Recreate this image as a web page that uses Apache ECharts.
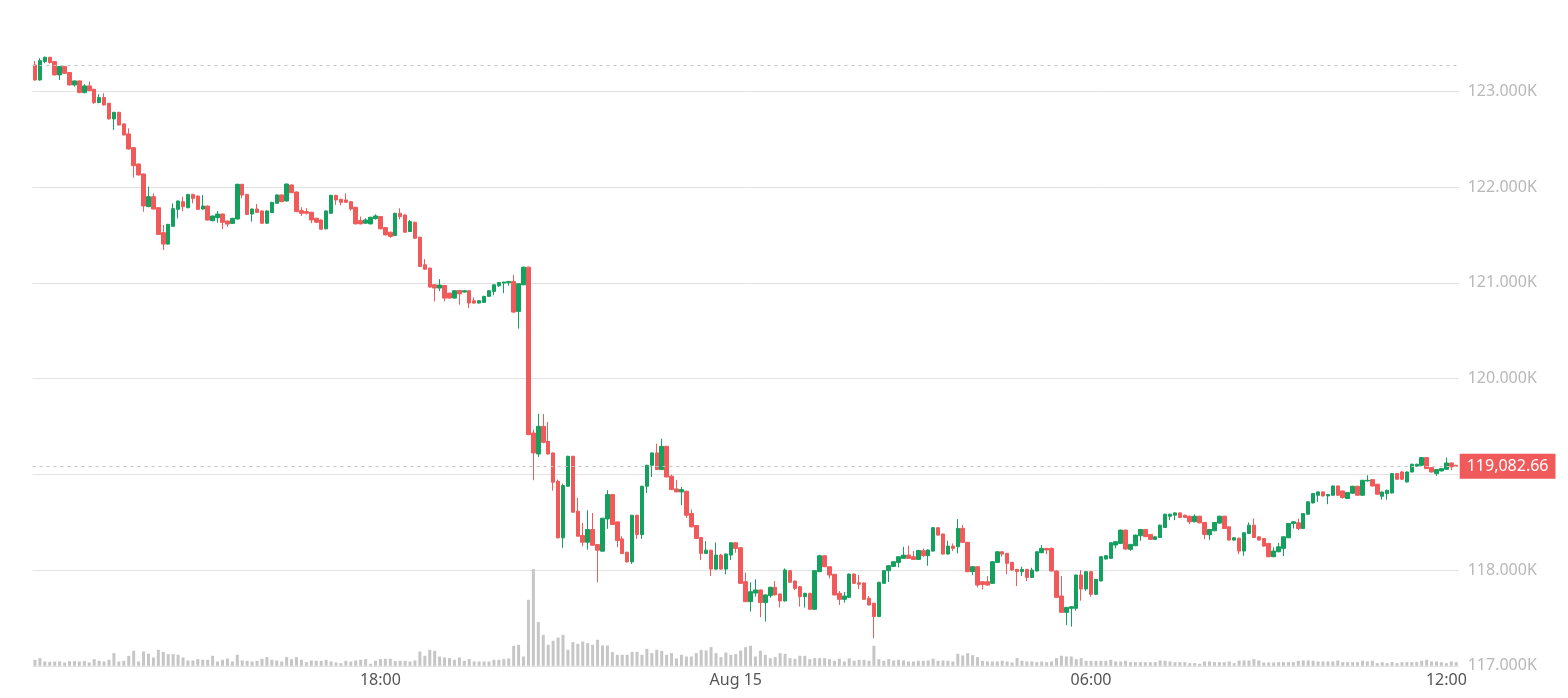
<!DOCTYPE html>
<html><head><meta charset="utf-8">
<script src="https://cdn.jsdelivr.net/npm/echarts@6/dist/echarts.min.js"></script>
<style>html,body{margin:0;padding:0;background:#fff}#c{width:1568px;height:698px}</style>
</head><body><div id="c"></div>
<script>
// ---- data (5-minute candles, Aug 14 12:10 -> Aug 15 12:10) ----
const startMinuteOfDay = 12 * 60 + 10;
const stepMinutes = 5;
const tickLabels = {'18:00': '18:00', '00:00': 'Aug 15', '06:00': '06:00', '12:00': '12:00'};
const lastPrice = 119082.66;
const yMin = 117000, yMax = 124000, yStep = 1000;

const opens = [
123275,123118,123310,123355,123310,123171,123258,123195,123066,123108,
122986,123056,123021,122882,122934,122875,122711,122780,122659,122554,
122411,122240,122136,121795,121899,121784,121523,121404,121590,121767,
121847,121784,121923,121906,121770,121801,121648,121680,121718,121645,
121620,121666,122028,121923,121718,121770,121750,121622,121733,121830,
121917,121854,122021,121948,121753,121743,121736,121674,121656,121563,
121726,121913,121872,121865,121847,121788,121649,121622,121615,121670,
121691,121576,121528,121493,121726,121708,121535,121632,121476,121188,
121153,120979,120945,120972,120892,120840,120920,120903,120917,120813,
120788,120795,120858,120910,120969,120997,121000,121014,120701,120979,
121163,119431,119212,119501,119344,119223,118927,118336,118875,119188,
118614,118360,118291,118423,118266,118197,118534,118788,118503,118325,
118186,118085,118572,118371,118875,119094,119223,119049,119292,118980,
118847,118816,118823,118590,118465,118340,118174,118208,118010,118156,
118010,118156,118285,118233,117878,117670,117760,117792,117660,117733,
117820,117750,117677,117993,117885,117826,117722,117757,117590,117983,
118149,118035,117955,117757,117694,117715,117958,117868,117865,117705,
117653,117514,117861,117993,118038,118080,118122,118156,118139,118111,
118202,118150,118198,118442,118376,118167,118250,118243,118435,118289,
117983,118035,117878,117878,117861,118080,118191,118174,118080,118007,
117983,118007,117923,117990,118181,118226,118226,117990,117729,117558,
117600,117600,117948,117802,117983,117746,117886,118115,118122,118261,
118278,118417,118216,118254,118358,118424,118372,118320,118340,118444,
118562,118573,118597,118573,118562,118504,118562,118497,118368,118410,
118490,118562,118451,118313,118333,118198,118382,118469,118347,118330,
118278,118139,118191,118226,118337,118486,118493,118434,118583,118701,
118781,118816,118774,118781,118878,118826,118747,118802,118875,118781,
118930,118944,118896,118770,118798,118805,119007,119024,118920,119024,
119085,119094,119174,119070,119007,119035,119052,119118,119094];

const closes = [
123118,123320,123355,123300,123171,123258,123188,123066,123108,122986,
123056,123007,122882,122934,122857,122711,122780,122648,122544,122397,
122223,122126,121802,121899,121770,121505,121404,121610,121774,121854,
121795,121923,121882,121767,121801,121655,121697,121718,121631,121613,
121673,122028,121916,121714,121770,121735,121622,121750,121840,121917,
121847,122031,121941,121743,121726,121726,121656,121632,121559,121750,
121913,121865,121840,121840,121771,121615,121615,121656,121684,121698,
121563,121500,121483,121726,121691,121528,121639,121465,121170,121142,
120955,120945,120976,120840,120840,120917,120885,120917,120788,120788,
120813,120858,120917,120979,121003,121007,121014,120694,120990,121163,
119414,119223,119501,119334,119212,118917,118336,118882,119188,118604,
118353,118291,118423,118259,118207,118541,118788,118475,118308,118172,
118085,118572,118371,118875,119094,119223,119049,119292,118972,118840,
118816,118840,118573,118451,118330,118174,118208,118010,118156,118010,
118167,118285,118226,117861,117670,117774,117792,117660,117740,117820,
117740,117677,118000,117872,117809,117722,117757,117590,117993,118149,
118035,117948,117740,117694,117729,117958,117861,117851,117694,117635,
117514,117872,117993,118045,118087,118139,118156,118122,118111,118205,
118150,118209,118442,118365,118167,118250,118226,118435,118289,117983,
118035,117843,117850,117843,118087,118191,118167,118070,118000,117983,
118007,117923,118000,118191,118226,118209,117990,117715,117558,117610,
117617,117948,117802,117983,117746,117903,118139,118150,118285,118296,
118417,118219,118268,118365,118424,118350,118320,118347,118469,118583,
118583,118597,118549,118549,118504,118562,118493,118372,118424,118497,
118562,118434,118313,118337,118198,118389,118469,118340,118313,118250,
118139,118198,118243,118347,118486,118504,118434,118590,118712,118799,
118816,118774,118788,118878,118781,118757,118809,118875,118781,118937,
118937,118878,118792,118815,118833,119007,118948,118948,119024,119105,
119105,119174,119059,119024,119049,119059,119118,119077,119082.66];

const lows = [
123110,123110,123293,123289,123164,123118,123182,123060,123049,122980,
122979,123000,122868,122875,122850,122705,122596,122642,122538,122390,
122098,122120,121742,121790,121765,121500,121342,121398,121585,121673,
121746,121778,121829,121760,121765,121650,121643,121627,121561,121585,
121615,121660,121882,121708,121638,121730,121617,121617,121728,121825,
121842,121849,121936,121738,121698,121712,121622,121622,121554,121558,
121721,121813,121810,121835,121753,121610,121610,121617,121610,121660,
121558,121495,121470,121488,121663,121523,121530,121460,121165,121137,
120950,120806,120913,120806,120835,120835,120771,120898,120736,120783,
120783,120790,120853,120870,120955,120892,120969,120684,120520,120974,
119409,118938,119181,119323,119207,118830,118331,118232,118870,118599,
118348,118249,118214,118254,117873,118192,118430,118470,118239,118167,
118080,118064,118325,118325,118805,118972,119044,119044,118967,118835,
118811,118677,118545,118446,118325,118104,118169,117938,118005,118005,
117955,118104,118181,117856,117665,117566,117722,117507,117462,117710,
117735,117608,117672,117867,117790,117618,117608,117585,117585,117978,
118030,117913,117735,117635,117660,117710,117856,117802,117689,117630,
117288,117509,117856,117875,118033,118028,118117,118117,118104,118106,
118139,118045,118193,118360,118162,118162,118198,118174,118284,117978,
117948,117819,117798,117838,117856,118075,118139,117958,117995,117833,
117937,117885,117918,117985,118176,118167,117985,117710,117553,117426,
117409,117576,117680,117784,117722,117741,117881,118110,118117,118226,
118273,118214,118202,118249,118306,118341,118315,118315,118335,118439,
118521,118521,118544,118544,118479,118499,118488,118323,118316,118405,
118485,118429,118308,118308,118167,118149,118377,118335,118308,118245,
118134,118134,118186,118146,118332,118434,118417,118429,118578,118696,
118712,118769,118688,118776,118776,118745,118742,118797,118776,118776,
118925,118873,118787,118735,118735,118800,118943,118943,118915,119019,
119080,119089,119054,119019,118983,119030,119047,119042,119077];

const highs = [
123317,123345,123362,123358,123315,123262,123262,123200,123112,123112,
123073,123101,123025,122969,122979,122880,122785,122785,122665,122613,
122415,122245,122140,122004,121934,121790,121603,121615,121829,121858,
121899,121928,121928,121910,121916,121806,121702,121749,121722,121650,
121678,122035,122033,121928,121775,121822,121755,121755,121845,121922,
121922,122038,122026,121953,121788,121778,121741,121679,121661,121755,
121918,121918,121877,121934,121852,121793,121691,121674,121689,121715,
121696,121581,121533,121731,121778,121713,121656,121637,121481,121247,
121158,120984,121038,120977,120897,120922,120925,120922,120922,120847,
120818,120863,120922,120984,121008,121012,121019,121083,120995,121170,
121168,119466,119633,119630,119546,119228,118945,118903,119193,119193,
118753,118492,118625,118597,118271,118546,118833,118793,118508,118353,
118191,118577,118577,118880,119099,119228,119320,119372,119297,118996,
118938,118868,118828,118632,118470,118345,118302,118213,118288,118170,
118172,118290,118290,118238,117972,117872,117903,117797,117745,117825,
117885,117755,118017,117998,117890,117831,117762,117762,117998,118160,
118154,118040,117960,117781,117771,117963,117963,117948,117870,117729,
117658,117877,117998,118050,118092,118144,118243,118254,118198,118209,
118223,118214,118447,118447,118381,118306,118278,118532,118470,118294,
118040,118040,117883,117937,118092,118196,118196,118179,118085,118012,
118035,118012,118024,118196,118261,118231,118236,117995,117937,117615,
117622,117953,118000,117988,117988,117908,118144,118157,118290,118301,
118422,118422,118273,118370,118429,118429,118377,118352,118474,118588,
118588,118602,118602,118578,118567,118583,118567,118502,118429,118502,
118567,118567,118456,118342,118338,118394,118497,118538,118352,118335,
118283,118236,118285,118352,118491,118509,118538,118595,118717,118804,
118821,118821,118793,118883,118883,118831,118814,118880,118880,118942,
118990,118949,118901,118820,118838,119012,119012,119035,119029,119110,
119110,119181,119179,119075,119054,119064,119174,119123,119099];

const volumes = [
18,23,13,12,13,13,10,14,14,13, 14,10,20,15,13,18,38,13,15,30,
45,13,43,36,25,48,42,35,35,33, 25,16,16,20,18,18,30,13,18,22,
13,33,16,15,13,15,21,26,18,16, 13,26,20,26,18,11,16,15,15,18,
13,10,8,15,13,16,18,20,6,15, 20,21,21,14,15,15,13,16,43,30,
48,45,28,25,23,18,25,15,20,13, 13,13,13,18,18,20,
22,60,63,28,198,290,131,93,63,75, 85,93,48,71,66,73,68,63,78,61,
61,41,33,33,33,42,42,33,51,38, 48,45,33,38,22,33,28,28,38,48,
46,56,38,26,40,33,35,46,56,60, 28,45,33,23,26,38,36,23,21,30,
30,20,23,23,23,20,15,21,13,22, 15,18,18,15,60,20,15,20,16,18,
16,13,13,15,15,16,21,15,16,15, 13,36,31,38,
32,26,15,13,13,13,15,13,10,23, 15,13,13,11,13,11,13,23,30,28,
28,20,23,15,15,15,15,15,18,13, 13,15,11,11,11,11,11,11,16,15,
13,11,11,11,8,8,6,13,13,11, 11,11,13,8,16,16,16,20,16,10,
10,10,11,11,11,11,15,16,16,15, 13,13,13,13,16,11,11,11,11,15,
13,15,8,11,8,11,8,11,11,11, 11,15,18,13,13,11,8,13,11];

// ---- build ----
const categories = opens.map((_, i) => {
  const m = (startMinuteOfDay + i * stepMinutes) % 1440;
  return String(Math.floor(m / 60)).padStart(2, '0') + ':' + String(m % 60).padStart(2, '0');
});
const candles = opens.map((o, i) => [o, closes[i], lows[i], highs[i]]);

const UP = '#14a05e', DOWN = '#f05a5a';
const FONT = 'Noto Sans';
const gridL = 32.5, gridR = 1568 - 1458.7, gridTop = -4.5;
const fmtY = v => (v / 1000).toFixed(3) + 'K';

const chart = echarts.init(document.getElementById('c'), null, {renderer: 'canvas'});
chart.setOption({
  animation: false,
  backgroundColor: '#ffffff',
  textStyle: {fontFamily: FONT},
  grid: [
    {left: gridL, right: gridR, top: gridTop, bottom: 32.2, outerBoundsMode: 'none', containLabel: false},
    {left: gridL, right: gridR, bottom: 32.2, height: 100, outerBoundsMode: 'none', containLabel: false}
  ],
  xAxis: [
    {type: 'category', data: categories, boundaryGap: true,
     axisLine: {show: false}, axisTick: {show: false}, splitLine: {show: false},
     axisLabel: {color: '#555', fontSize: 16, margin: 7,
       interval: (idx, val) => tickLabels[val] !== undefined,
       formatter: v => tickLabels[v] || ''}},
    {type: 'category', gridIndex: 1, data: categories, boundaryGap: true, show: false}
  ],
  yAxis: [
    {type: 'value', position: 'right', min: yMin, max: yMax, interval: yStep,
     axisLine: {show: false}, axisTick: {show: false},
     splitLine: {lineStyle: {color: '#e2e2e2', width: 1}},
     axisLabel: {color: '#b8b8b8', fontSize: 16, margin: 9,
       formatter: v => (v === 119000 || v === yMax) ? '' : fmtY(v)}},
    {type: 'value', gridIndex: 1, min: 0, max: 300, show: false}
  ],
  graphic: [{type: 'text', x: 1568 - gridR + 9, y: gridTop, silent: true, z: 10,
    style: {text: fmtY(yMax), fill: '#b8b8b8', fontSize: 16, fontFamily: FONT,
      align: 'left', verticalAlign: 'middle'}}],
  series: [
    {type: 'bar', xAxisIndex: 1, yAxisIndex: 1, data: volumes, barWidth: 3,
     itemStyle: {color: '#c6c6c6'}, silent: true},
    {type: 'candlestick', data: candles, barWidth: 4,
     itemStyle: {color: UP, color0: DOWN, borderColor: UP, borderColor0: DOWN, borderWidth: 1},
     markLine: {
       symbol: ['none', 'none'], silent: true, animation: false,
       data: [
         {yAxis: opens[0], lineStyle: {type: [3, 4], color: '#c4c4c4', width: 1}, label: {show: false}},
         {yAxis: lastPrice, lineStyle: {type: [3, 4], color: '#c4c4c4', width: 1},
          label: {show: true, position: 'end', distance: 1,
            formatter: () => lastPrice.toLocaleString('en-US', {minimumFractionDigits: 2}),
            backgroundColor: DOWN, color: '#fff', fontSize: 16, fontFamily: FONT,
            padding: [5, 7, 4, 7]}}
       ]
     }}
  ]
});
</script></body></html>
